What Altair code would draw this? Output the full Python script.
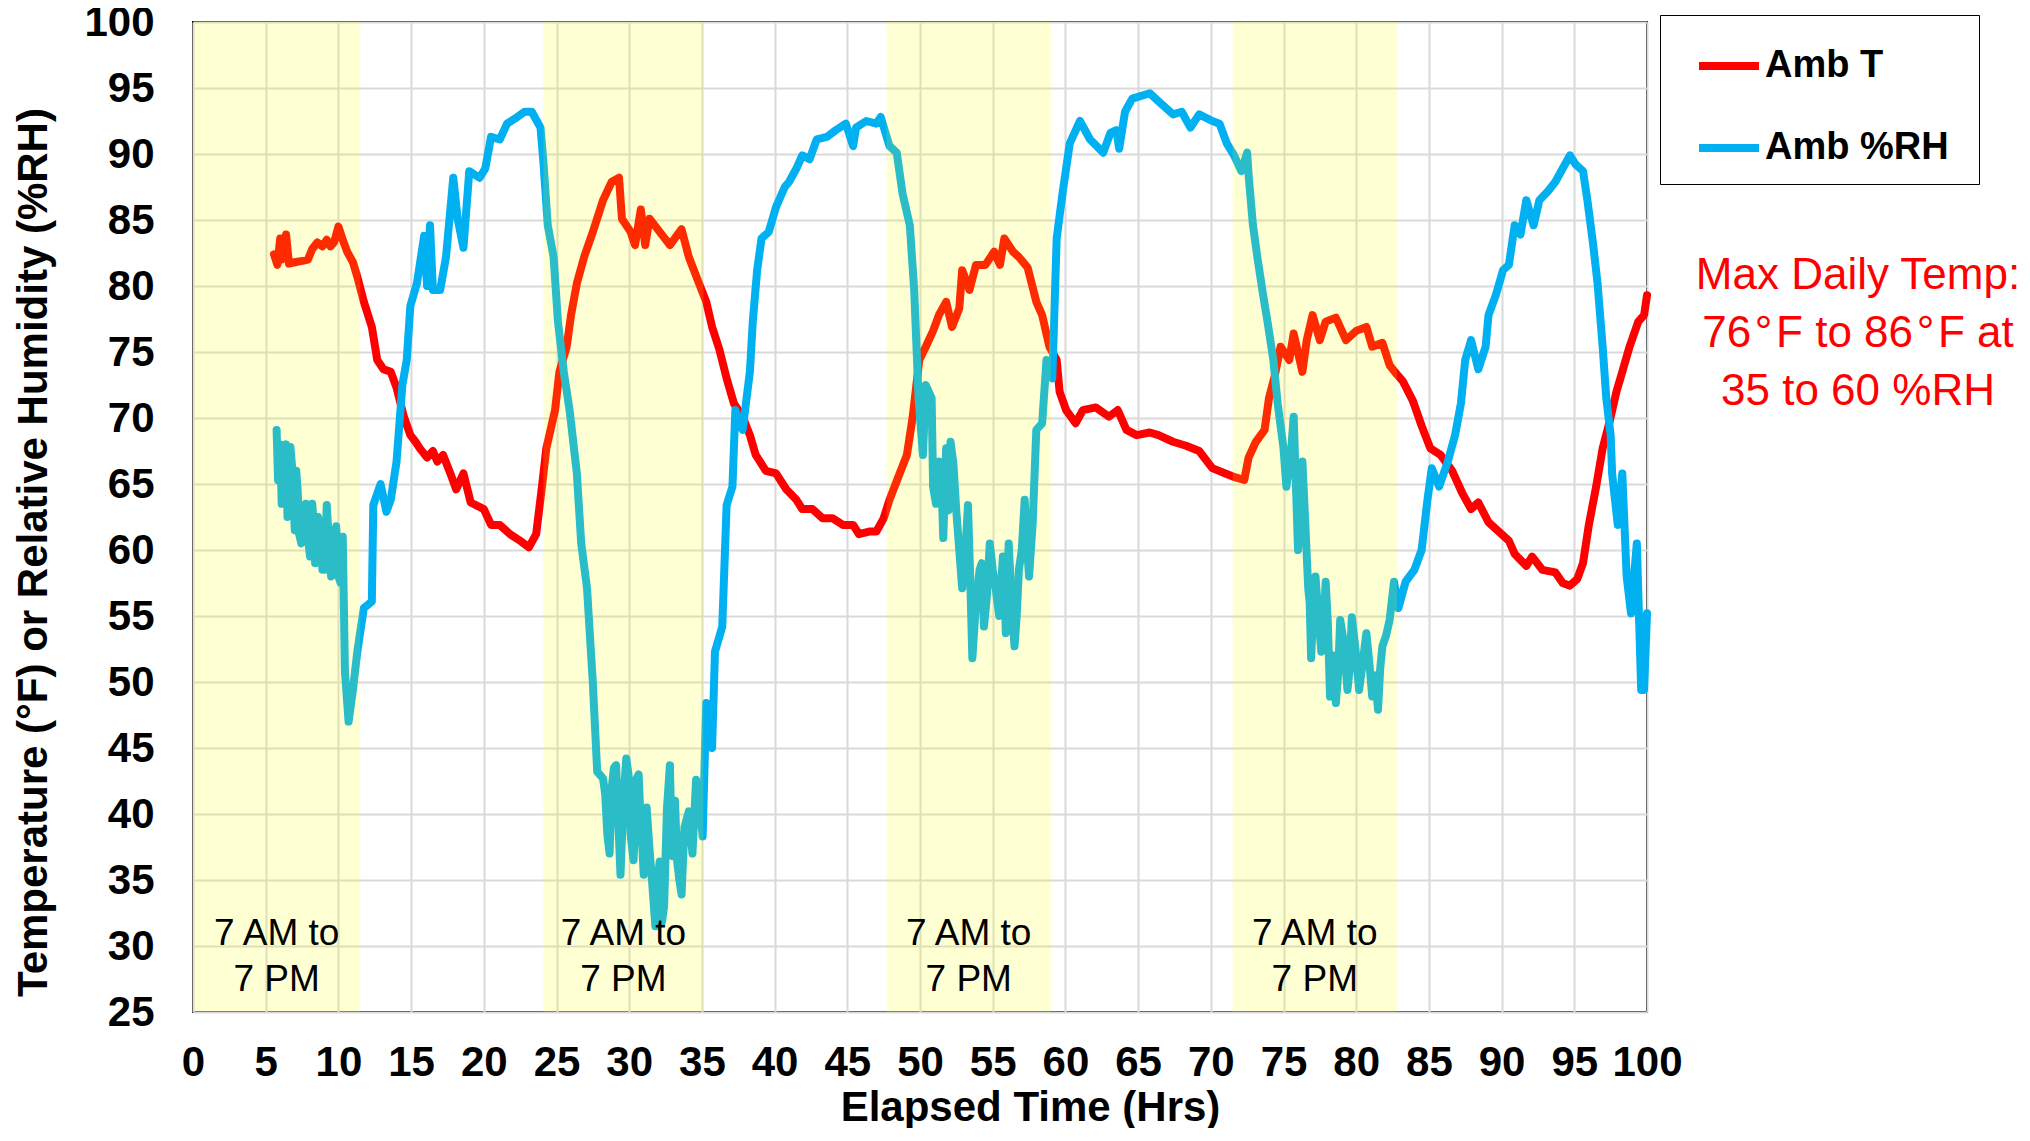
import altair as alt
import pandas as pd

# ---------------- data ----------------
temp_t = [5.57, 5.8, 6.0, 6.1, 6.4, 6.6, 7.0, 7.5, 7.9, 8.2, 8.55, 8.9, 9.2, 9.46, 9.7, 10.0, 10.3, 10.6,
          11.0, 11.3, 11.75, 12.3, 12.67, 13.1, 13.6, 14.0, 14.5, 14.95, 15.3, 15.6, 16.1, 16.5, 16.8, 17.2,
          17.7, 18.1, 18.6, 19.1, 20.0, 20.5, 21.1, 21.8, 22.5, 23.1, 23.6, 24.0, 24.3, 24.9, 25.2, 25.7,
          26.0, 26.4, 26.9, 27.5, 28.2, 28.8, 29.3, 29.5, 30.1, 30.4, 30.8, 31.1, 31.4, 32.1, 32.8, 33.6,
          34.1, 34.8, 35.3, 35.7, 36.2, 36.7, 37.2, 37.8, 38.3, 38.7, 39.4, 40.1, 40.8, 41.5, 41.9, 42.6,
          43.3, 44.0, 44.7, 45.4, 45.8, 46.5, 47.0, 47.5, 47.9, 48.6, 49.1, 49.5, 49.95, 50.4, 50.9, 51.3,
          51.8, 52.2, 52.7, 52.9, 53.4, 53.85, 54.5, 55.1, 55.5, 55.8, 56.4, 56.8, 57.4, 58.0, 58.4, 58.9,
          59.4, 59.6, 60.05, 60.7, 61.2, 62.1, 63.0, 63.6, 64.2, 64.9, 65.8, 66.4, 67.4, 68.3, 69.2, 70.1,
          71.0, 71.7, 72.3, 72.6, 73.1, 73.7, 74.0, 74.4, 74.8, 75.4, 75.7, 76.3, 76.6, 77.0, 77.5, 77.9,
          78.6, 79.3, 80.0, 80.7, 81.1, 81.8, 82.3, 82.8, 83.2, 83.9, 84.5, 85.1, 85.8, 86.6, 87.3, 87.9,
          88.4, 89.1, 89.8, 90.5, 90.9, 91.7, 92.1, 92.8, 93.7, 94.2, 94.7, 95.2, 95.6, 96.0, 96.5, 96.95,
          97.4, 97.9, 98.3, 98.8, 99.4, 99.8, 100.0]
temp_v = [82.4, 81.6, 83.6, 82.0, 83.9, 81.7, 81.8, 81.9, 82.0, 82.8, 83.3, 83.0, 83.5, 83.0, 83.3, 84.5, 83.5, 82.6,
          81.8, 80.7, 78.8, 76.9, 74.4, 73.7, 73.5, 72.3, 70.1, 68.7, 68.2, 67.7, 67.0, 67.5, 66.7, 67.2,
          65.8, 64.6, 65.8, 63.6, 63.1, 61.9, 61.9, 61.2, 60.7, 60.2, 61.2, 64.8, 67.7, 70.6, 73.5, 75.4,
          77.8, 80.2, 82.2, 84.1, 86.5, 87.9, 88.2, 85.1, 84.1, 83.1, 85.8, 83.1, 85.1, 84.1, 83.1, 84.3,
          82.2, 80.2, 78.8, 76.9, 75.2, 73.0, 71.1, 70.1, 68.7, 67.2, 66.0, 65.8, 64.6, 63.8, 63.1, 63.1,
          62.4, 62.4, 61.9, 61.9, 61.2, 61.4, 61.4, 62.4, 63.8, 65.8, 67.2, 70.1, 74.4, 75.4, 76.6, 77.8,
          78.8, 76.9, 78.3, 81.2, 79.7, 81.6, 81.6, 82.6, 81.6, 83.6, 82.6, 82.2, 81.4, 78.8, 77.8, 75.4,
          74.4, 72.0, 70.6, 69.6, 70.6, 70.8, 70.1, 70.6, 69.1, 68.7, 68.9, 68.7, 68.2, 67.9, 67.5, 66.2,
          65.8, 65.5, 65.3, 67.0, 68.2, 69.1, 71.5, 73.2, 75.4, 74.4, 76.4, 73.5, 75.9, 77.8, 75.9, 77.3,
          77.6, 75.9, 76.6, 76.9, 75.4, 75.7, 74.0, 73.3, 72.8, 71.3, 69.4, 67.7, 67.2, 66.0, 64.3, 63.1,
          63.6, 62.1, 61.4, 60.7, 59.7, 58.8, 59.5, 58.5, 58.3, 57.5, 57.3, 57.8, 59.0, 61.9, 64.8, 67.7,
          69.6, 72.0, 73.5, 75.4, 77.3, 77.8, 79.3]

rh_t = [5.75, 5.85, 6.0, 6.1, 6.3, 6.5, 6.7, 6.9, 7.1, 7.3, 7.6, 7.9, 8.2, 8.4, 8.6, 8.9, 9.2, 9.5, 9.7, 10.0,
        10.3, 10.45, 10.7, 11.0, 11.3, 11.75, 12.3, 12.4, 12.9, 13.3, 13.6, 14.0, 14.4, 14.7, 14.95, 15.4,
        15.9, 16.1, 16.3, 16.5, 17.0, 17.4, 17.9, 18.2, 18.6, 19.0, 19.7, 20.1, 20.5, 21.1, 21.6, 22.3,
        22.8, 23.3, 23.9, 24.1, 24.4, 24.8, 25.1, 25.5, 25.9, 26.4, 26.7, 27.1, 27.5, 27.8, 28.2, 28.5,
        28.8, 29.1, 29.4, 29.8, 30.1, 30.5, 30.8, 31.0, 31.4, 31.8, 32.1, 32.4, 32.8, 33.0, 33.3, 33.6,
        34.1, 34.6, 35.05, 35.3, 35.7, 35.9, 36.4, 36.7, 37.1, 37.3, 37.8, 38.3, 38.5, 38.8, 39.1, 39.6,
        40.1, 40.7, 41.0, 41.5, 41.9, 42.4, 42.9, 43.6, 44.2, 44.9, 45.4, 45.6, 46.3, 47.0, 47.3, 47.9,
        48.4, 48.8, 49.3, 49.6, 49.9, 50.2, 50.4, 50.8, 50.9, 51.3, 51.6, 51.8, 52.1, 52.5, 52.9, 53.3,
        53.6, 54.1, 54.4, 54.8, 55.2, 55.7, 55.9, 56.1, 56.5, 56.8, 57.2, 57.5, 58.0, 58.4, 58.7, 59.1,
        59.4, 59.8, 60.3, 61.0, 61.7, 62.6, 63.1, 63.5, 63.7, 64.1, 64.6, 65.8, 66.4, 67.4, 68.0, 68.6,
        69.2, 70.1, 70.6, 71.1, 71.6, 72.1, 72.5, 72.6, 72.9, 73.2, 73.6, 73.9, 74.3, 74.6, 75.0, 75.2,
        75.5, 75.7, 76.0, 76.3, 76.7, 76.9, 77.2, 77.6, 77.9, 78.2, 78.6, 78.9, 79.4, 79.7, 80.2, 80.7,
        81.1, 81.5, 81.8, 82.3, 82.6, 82.9, 83.4, 84.0, 84.5, 84.9, 85.2, 85.7, 86.3, 86.8, 87.2, 87.5,
        87.9, 88.4, 88.9, 89.1, 89.6, 90.1, 90.5, 90.9, 91.3, 91.7, 92.2, 92.6, 93.2, 93.7, 94.2, 94.7,
        95.1, 95.6, 95.9, 96.3, 96.6, 96.95, 97.2, 97.5, 97.6, 97.99, 98.3, 98.6, 98.9, 99.3, 99.6, 99.8,
        100.0]
rh_v = [69.1, 65.3, 68.0, 63.5, 67.5, 62.5, 67.8, 64.0, 66.0, 61.2, 62.0, 61.0, 63.5, 59.0, 62.5, 58.5, 63.4, 58.0, 60.5, 58.0,
        61.0, 50.8, 47.0, 49.4, 52.3, 55.6, 56.1, 63.4, 65.0, 62.9, 63.8, 66.7, 72.5, 74.4, 78.5, 80.2,
        83.8, 80.0, 84.6, 79.7, 79.7, 82.2, 88.2, 85.1, 82.9, 88.7, 88.2, 88.9, 91.3, 91.1, 92.3, 92.8,
        93.2, 93.2, 92.0, 89.4, 84.6, 82.2, 77.3, 73.5, 70.6, 65.8, 60.5, 57.1, 49.9, 43.2, 42.7, 38.4,
        42.0, 43.7, 35.4, 44.2, 38.4, 42.7, 39.0, 35.4, 37.3, 31.5, 36.4, 33.0, 43.7, 36.8, 36.4, 33.9,
        40.2, 42.6, 38.3, 48.4, 45.0, 52.3, 54.2, 63.4, 64.8, 70.6, 69.1, 73.5, 77.3, 81.2, 83.6, 84.1,
        86.0, 87.5, 87.9, 88.9, 89.9, 89.6, 91.1, 91.3, 91.8, 92.3, 90.6, 92.0, 92.5, 92.3, 92.8, 90.6,
        90.1, 87.0, 84.6, 79.7, 71.5, 67.2, 72.5, 71.5, 64.8, 66.7, 60.9, 67.7, 68.2, 62.9, 57.1, 63.4,
        51.8, 58.5, 54.2, 60.5, 57.1, 59.5, 53.7, 60.5, 52.7, 58.5, 63.8, 58.0, 69.1, 69.6, 74.4, 73.0,
        83.6, 87.0, 90.8, 92.5, 91.1, 90.1, 91.6, 91.8, 90.4, 93.2, 94.2, 94.6, 94.0, 93.0, 93.2, 92.0,
        93.0, 92.5, 92.3, 90.8, 89.9, 88.7, 90.1, 88.4, 84.6, 82.2, 79.3, 77.3, 74.4, 71.1, 67.7, 64.8,
        67.2, 70.1, 60.0, 66.7, 57.1, 51.8, 58.0, 52.3, 57.6, 48.9, 48.4, 54.7, 49.4, 54.9, 49.4, 53.7,
        48.9, 47.9, 52.7, 54.7, 57.6, 55.6, 57.6, 58.5, 60.0, 63.8, 66.2, 64.8, 66.7, 68.7, 71.1, 74.4,
        75.9, 73.7, 75.4, 77.8, 79.3, 81.2, 81.6, 84.6, 83.9, 86.5, 84.6, 86.5, 87.2, 87.9, 88.9, 89.9,
        89.2, 88.7, 86.5, 83.1, 80.2, 75.4, 71.5, 68.7, 65.8, 61.9, 65.8, 58.0, 55.2, 60.5, 49.4, 49.4,
        55.2]

# extra jitter readings in the noisy daytime humidity stretches
rh_extra_t = [6.2, 6.4, 6.6, 6.8, 7.0, 7.2, 7.45, 7.75, 8.05, 8.3, 8.75, 9.05, 9.35, 9.85, 10.15,
              28.35, 28.65, 28.95, 29.25, 29.6, 29.95, 30.3, 30.65, 30.9, 31.2, 31.6, 31.95, 32.25,
              32.6, 32.9, 33.15, 33.45, 33.8, 34.35, 34.8,
              51.1, 51.45, 51.95, 52.3, 52.7, 53.1, 53.45, 53.85, 54.25, 54.6, 55.0, 55.45, 55.8,
              56.3, 56.65, 57.0, 57.35, 57.75,
              76.15, 76.5, 76.8, 77.05, 77.4, 77.75, 78.05, 78.4, 78.75, 79.15, 79.55, 79.95, 80.45,
              80.9, 81.3, 81.65, 82.05]
rh_extra_v = [64.5, 68.0, 63.0, 66.5, 61.5, 64.5, 60.5, 63.5, 59.5, 62.0, 61.5, 58.5, 60.5, 61.8, 57.5,
              41.5, 37.0, 43.5, 39.5, 41.0, 43.0, 36.5, 43.0, 37.5, 40.5, 34.5, 35.0, 31.8,
              40.5, 38.5, 41.0, 35.0, 39.0, 37.0, 41.5,
              63.5, 66.0, 63.0, 66.5, 60.0, 59.5, 58.0, 56.0, 59.0, 56.5, 58.5, 55.0, 58.0,
              56.0, 55.0, 60.0, 60.5, 62.0,
              63.0, 62.0, 56.0, 55.5, 55.0, 54.0, 54.5, 52.0, 50.5, 53.0, 51.0, 52.5, 51.5,
              51.5, 50.5, 51.0, 53.5]

band_start = [0.0, 24.1, 47.7, 71.5]
band_end = [11.5, 35.1, 59.0, 82.8]
band_label = "7 AM to\n7 PM"
band_label_y = 30.9
x_ticks = list(range(0, 101, 5))
y_ticks = list(range(25, 101, 5))
series_names = ["Amb T", "Amb %RH"]
series_colors = ["#FF0000", "#00B0F0"]
note_text = "Max Daily Temp:\n76\u200a°\u200aF to 86\u200a°\u200aF at\n35 to 60 %RH"

FONT = "Liberation Sans, Arial, Helvetica, sans-serif"
W, H = 1454, 990

temp_df = pd.DataFrame({"t": temp_t, "v": temp_v, "series": series_names[0]})
rh_df = pd.DataFrame({"t": rh_t + rh_extra_t, "v": rh_v + rh_extra_v, "series": series_names[1]})
rh_df = rh_df.sort_values("t").reset_index(drop=True)
band_df = pd.DataFrame({"x0": band_start, "x1": band_end,
                        "y0": [25] * len(band_start), "y1": [100] * len(band_start)})
band_df["xc"] = (band_df["x0"] + band_df["x1"]) / 2
band_df["yc"] = band_label_y
band_df["label"] = band_label
note_df = pd.DataFrame({"label": [note_text]})

xscale = alt.Scale(domain=[0, 100], nice=False, zero=False)
yscale = alt.Scale(domain=[25, 100], nice=False, zero=False)
cscale = alt.Scale(domain=series_names, range=series_colors)

x_axis = alt.Axis(values=x_ticks, title="Elapsed Time (Hrs)", labelFlush=False,
                  labelPadding=30, ticks=False, tickSize=0, domain=False,
                  titleX=837, titleY=95, titleBaseline="middle", titleAlign="center",
                  titleFontSize=42)
y_axis = alt.Axis(values=y_ticks, title="Temperature (°F) or Relative Humidity (%RH)",
                  labelPadding=39, ticks=False, tickSize=0, domain=False,
                  titleX=-160, titleY=530, titleAngle=270, titleBaseline="middle",
                  titleAlign="center", titleFontSize=42)

legend = alt.Legend(title=".", titleOrient="right", titleOpacity=0, titleFontSize=10,
                    titlePadding=10,
                    orient="none", legendX=1467, legendY=-7,
                    direction="vertical", symbolType="stroke", symbolStrokeWidth=8,
                    symbolSize=3600, labelFontSize=38, labelFontWeight="bold",
                    labelFont=FONT, labelColor="black", labelLimit=400,
                    strokeColor="black", fillColor="white", padding=17,
                    rowPadding=29, symbolOffset=18, labelOffset=2)

color = alt.Color("series:N", scale=cscale, legend=legend)

line_style = dict(strokeWidth=8, strokeJoin="round", strokeCap="round")

temp_line = alt.Chart(temp_df).mark_line(**line_style).encode(
    x=alt.X("t:Q", scale=xscale, axis=x_axis),
    y=alt.Y("v:Q", scale=yscale, axis=y_axis),
    color=color, order="t:Q")
rh_line = alt.Chart(rh_df).mark_line(**line_style).encode(
    x=alt.X("t:Q", scale=xscale), y=alt.Y("v:Q", scale=yscale),
    color=color, order="t:Q")

bands = alt.Chart(band_df).mark_rect(color="#FFFF00", opacity=0.17).encode(
    x=alt.X("x0:Q", scale=xscale), x2="x1:Q",
    y=alt.Y("y0:Q", scale=yscale), y2="y1:Q")

band_text = alt.Chart(band_df).mark_text(font=FONT, fontSize=37, color="black",
                                         lineBreak="\n", lineHeight=46,
                                         align="center", baseline="middle").encode(
    x=alt.X("xc:Q", scale=xscale), y=alt.Y("yc:Q", scale=yscale), text="label:N")

note = alt.Chart(note_df).mark_text(font=FONT, fontSize=44, color="#FF0000",
                                    lineBreak="\n", lineHeight=58,
                                    align="center", baseline="middle").encode(
    x=alt.value(1665), y=alt.value(254), text="label:N")

chart = alt.layer(temp_line, rh_line, bands, band_text, note).properties(
    width=W, height=H,
    autosize=alt.AutoSizeParams(type="none"),
    padding={"left": 185, "top": 14, "right": 375, "bottom": 116},
    background="white",
).configure_view(
    stroke="black", strokeWidth=2
).configure_axis(
    labelFont=FONT, labelFontSize=42, labelFontWeight="bold", labelColor="black",
    titleFont=FONT, titleFontWeight="bold", titleColor="black",
    gridColor="#D9D9D9", gridWidth=2, gridOpacity=1
)

chart.save("out.html", embed_options={"renderer": "svg", "actions": False})
